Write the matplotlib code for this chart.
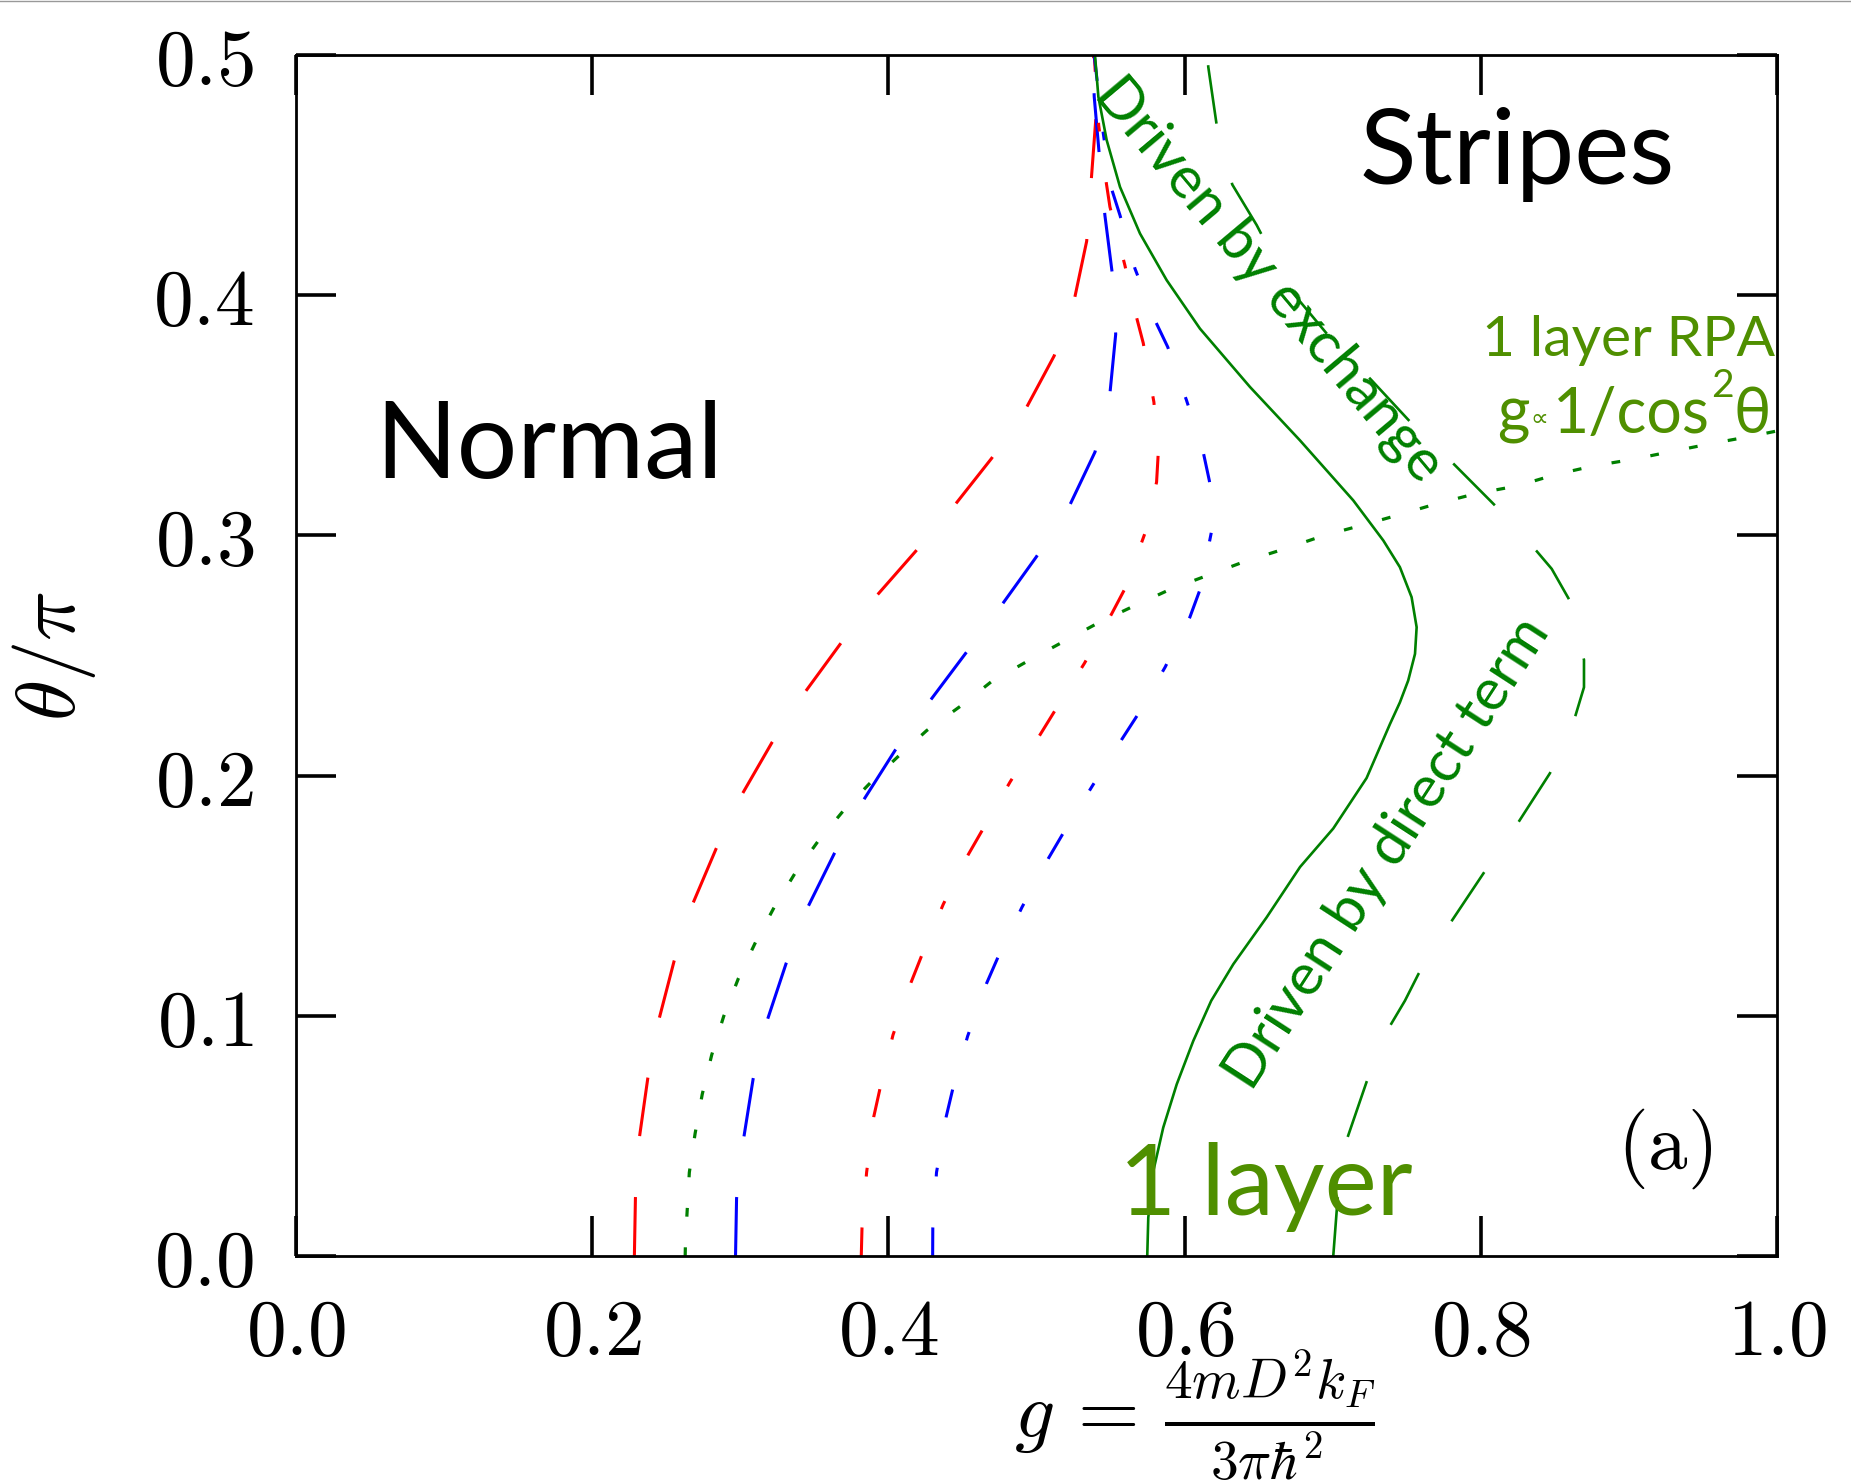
import numpy as np
import matplotlib
matplotlib.use('Agg')
import matplotlib.pyplot as plt

plt.rcParams['mathtext.fontset'] = 'cm'
plt.rcParams['lines.scale_dashes'] = False

# Phase boundaries: g (x) vs theta/pi (y)
red_long_y = [0, 0.024, 0.0494, 0.0742, 0.0985, 0.123, 0.1468, 0.1696, 0.192, 0.2138, 0.235, 0.2548,
              0.275, 0.2934, 0.3128, 0.3321, 0.3532, 0.3747, 0.3986, 0.4225, 0.448, 0.4728, 0.5]
red_long_x = [0.2285, 0.2292, 0.2319, 0.2376, 0.2451, 0.2554, 0.268, 0.2837, 0.301, 0.3214, 0.344, 0.3675,
              0.3922, 0.4184, 0.445, 0.4697, 0.4932, 0.5119, 0.5257, 0.5339, 0.537, 0.540, 0.5385]

blue_long_y = [0, 0.024, 0.0494, 0.0738, 0.0985, 0.1219, 0.1455, 0.1677, 0.1898, 0.2106, 0.2314, 0.2512,
               0.2711, 0.291, 0.3125, 0.3347, 0.3597, 0.3838, 0.409, 0.4333, 0.4586, 0.4826, 0.5]
blue_long_x = [0.2968, 0.2975, 0.3024, 0.3087, 0.3184, 0.331, 0.3458, 0.3636, 0.3832, 0.4046, 0.4284, 0.4525,
               0.4766, 0.4998, 0.5224, 0.5395, 0.5497, 0.5535, 0.5512, 0.5462, 0.5424, 0.539, 0.538]

red_dd_y = [0, 0.0118, 0.0348, 0.0579, 0.0696, 0.092, 0.1139, 0.1251, 0.1465, 0.1672, 0.1777, 0.1974, 0.217,
            0.2271, 0.2469, 0.2674, 0.2778, 0.301, 0.3222, 0.334, 0.3555, 0.3801, 0.3917, 0.4125, 0.4368,
            0.4486, 0.4708, 0.5]
red_dd_x = [0.3817, 0.3822, 0.3853, 0.3901, 0.3943, 0.4031, 0.4153, 0.4225, 0.4371, 0.454, 0.4638, 0.4822,
            0.5024, 0.5125, 0.5325, 0.5508, 0.5597, 0.5733, 0.5811, 0.5822, 0.5793, 0.5721, 0.5672, 0.5597,
            0.5496, 0.5467, 0.542, 0.539]

blue_dd_y = [0, 0.0118, 0.0348, 0.0579, 0.0696, 0.0915, 0.1135, 0.1244, 0.1452, 0.1655, 0.1761, 0.1958,
             0.215, 0.2253, 0.2452, 0.266, 0.2774, 0.302, 0.312, 0.3229, 0.3347, 0.3563, 0.3785, 0.3896,
             0.4111, 0.4333, 0.4451, 0.47, 0.5]
blue_dd_x = [0.4299, 0.4300, 0.4325, 0.439, 0.4435, 0.4535, 0.4663, 0.474, 0.4902, 0.508, 0.5181, 0.5378,
             0.5575, 0.5683, 0.5869, 0.6036, 0.6104, 0.6183, 0.6195, 0.6167, 0.6126, 0.6013, 0.5886, 0.58,
             0.5665, 0.5564, 0.5503, 0.5445, 0.539]

rpa_y = [0, 0.0063, 0.0348, 0.051, 0.0673, 0.0837, 0.0998, 0.1157, 0.1309, 0.1452, 0.1595, 0.1726, 0.1856,
         0.1979, 0.2088, 0.2188, 0.2288, 0.2392, 0.2475, 0.2554, 0.2633, 0.2704, 0.2775, 0.2833, 0.2892,
         0.2946, 0.3, 0.3043, 0.3083, 0.3132, 0.3175, 0.3206, 0.3254, 0.329, 0.3317, 0.335, 0.3383, 0.3413,
         0.3435]
rpa_x = [0.2628, 0.263, 0.2656, 0.2695, 0.2743, 0.2807, 0.2888, 0.2988, 0.3105, 0.3229, 0.3371, 0.3524,
         0.3699, 0.3892, 0.408, 0.4259, 0.4484, 0.4697, 0.4935, 0.517, 0.5408, 0.565, 0.5901, 0.6152, 0.6408,
         0.6685, 0.6941, 0.7201, 0.7431, 0.7702, 0.7972, 0.8245, 0.8508, 0.8765, 0.9028, 0.9291, 0.9561,
         0.9825, 1.0]

solid_y = [0, 0.016, 0.0354, 0.0535, 0.0715, 0.0896, 0.1063, 0.1215, 0.141, 0.162, 0.178, 0.199, 0.2215,
           0.2305, 0.2396, 0.2507, 0.2618, 0.2743, 0.2868, 0.2979, 0.3146, 0.3396, 0.3618, 0.3861, 0.4063,
           0.4257, 0.4451, 0.4646, 0.4826, 0.5]
solid_x = [0.5748, 0.5755, 0.5789, 0.5856, 0.5947, 0.6059, 0.618, 0.6329, 0.6554, 0.678, 0.7004, 0.7229,
           0.7387, 0.7454, 0.751, 0.7556, 0.7567, 0.7533, 0.7454, 0.7342, 0.7139, 0.6779, 0.6442, 0.6104,
           0.5879, 0.5699, 0.5564, 0.5474, 0.5418, 0.5395]

green_long_y = [0, 0.0243, 0.0493, 0.0725, 0.0958, 0.1063, 0.1174, 0.1389, 0.1595, 0.1805, 0.201, 0.2243,
                0.2368, 0.2482, 0.2732, 0.2861, 0.2935, 0.3125, 0.3299, 0.3474, 0.3646, 0.3833, 0.4024,
                0.4292, 0.4461, 0.4708, 0.4951, 0.5]
green_long_x = [0.7004, 0.7034, 0.710, 0.7229, 0.7387, 0.7488, 0.7579, 0.7797, 0.802, 0.8253, 0.8467, 0.8636,
                0.8697, 0.8697, 0.8598, 0.8479, 0.8377, 0.8096, 0.7815, 0.7522, 0.7263, 0.697, 0.6712,
                0.6487, 0.6322, 0.6217, 0.616, 0.6155]

xticks = [0.0, 0.2, 0.4, 0.6, 0.8, 1.0]
yticks = [0.0, 0.1, 0.2, 0.3, 0.4, 0.5]

green = '#008000'
olive = '#4f8f00'
sans = ['Lato', 'DejaVu Sans']

fig = plt.figure(figsize=(18.51, 14.84), dpi=100)
ax = fig.add_axes([0.1599, 0.1536, 0.8001, 0.8093])

long_dash = (42.5, 44)
ax.plot(red_long_x, red_long_y, color='red', lw=2.2, dashes=long_dash)
ax.plot(blue_long_x, blue_long_y, color='blue', lw=2.2, dashes=long_dash)
ax.plot(red_dd_x, red_dd_y, color='red', lw=2.2, dashes=(20.6, 36.8, 6.3, 36.8))
ax.plot(blue_dd_x, blue_dd_y, color='blue', lw=2.2, dashes=(20.6, 36.8, 6.3, 36.8))
ax.plot(rpa_x, rpa_y, color=green, lw=2.3, dashes=(6.3, 22.1))
ax.plot(solid_x, solid_y, color=green, lw=1.9)
ax.plot(green_long_x, green_long_y, color=green, lw=1.9, dashes=long_dash)

ax.set_xlim(0, 1)
ax.set_ylim(0, 0.5)
ax.set_xticks(xticks)
ax.set_yticks(yticks)
ax.set_xticklabels(['$%.1f$' % t for t in xticks], fontsize=57)
ax.set_yticklabels(['$%.1f$' % t for t in yticks], fontsize=57)
ax.tick_params(direction='in', length=29, width=2.6, top=True, right=True)
ax.tick_params(axis='x', pad=28)
ax.tick_params(axis='y', pad=30)
for s in ax.spines.values():
    s.set_linewidth(2.0)

ax.set_xlabel(r'$g\,=\,\frac{4mD^2k_F}{3\pi\hbar^2}$', fontsize=57)
ax.xaxis.set_label_coords(0.607, -0.077)
ax.set_ylabel(r'$\theta/\pi$', fontsize=60)
ax.yaxis.set_label_coords(-0.134, 0.5)

# region labels
ax.text(0.0533, 0.324, 'Normal', fontsize=77, family=sans, ha='left', va='baseline')
ax.text(0.718, 0.4462, 'Stripes', fontsize=75, family=sans, ha='left', va='baseline')
ax.text(0.556, 0.0171, '1 layer', fontsize=71, family=sans, color=olive, ha='left', va='baseline')
ax.text(0.9987, 0.3747, '1 layer RPA', fontsize=41, family=sans, color=olive, ha='right', va='baseline')
ax.text(0.8111, 0.3428, 'g', fontsize=45, family=sans, color=olive, ha='left', va='baseline')
ax.text(0.8332, 0.3455, '\u221d', fontsize=18, family=['DejaVu Sans'], color=olive, ha='left', va='baseline')
ax.text(0.849, 0.3428, '1/cos', fontsize=45, family=sans, color=olive, ha='left', va='baseline')
ax.text(0.9555, 0.3575, '2', fontsize=28, family=sans, color=olive, ha='left', va='baseline')
ax.text(0.9705, 0.3428, '\u03b8', fontsize=45, family=sans, color=olive, ha='left', va='baseline')
ax.text(0.657, 0.4063, 'Driven by exchange', fontsize=42, family=sans, color=green,
        rotation=-50, rotation_mode='anchor', ha='center', va='center')
ax.text(0.7367, 0.1675, 'Driven by direct term', fontsize=42, family=sans, color=green,
        rotation=57, rotation_mode='anchor', ha='center', va='center')
ax.text(0.924, 0.0448, r'$\mathrm{(a)}$', fontsize=57, ha='center', va='center')

fig.add_artist(plt.Line2D([0, 1], [0.9995, 0.9995], transform=fig.transFigure, color='#999999', lw=1))

fig.savefig('out.png', dpi=100)
